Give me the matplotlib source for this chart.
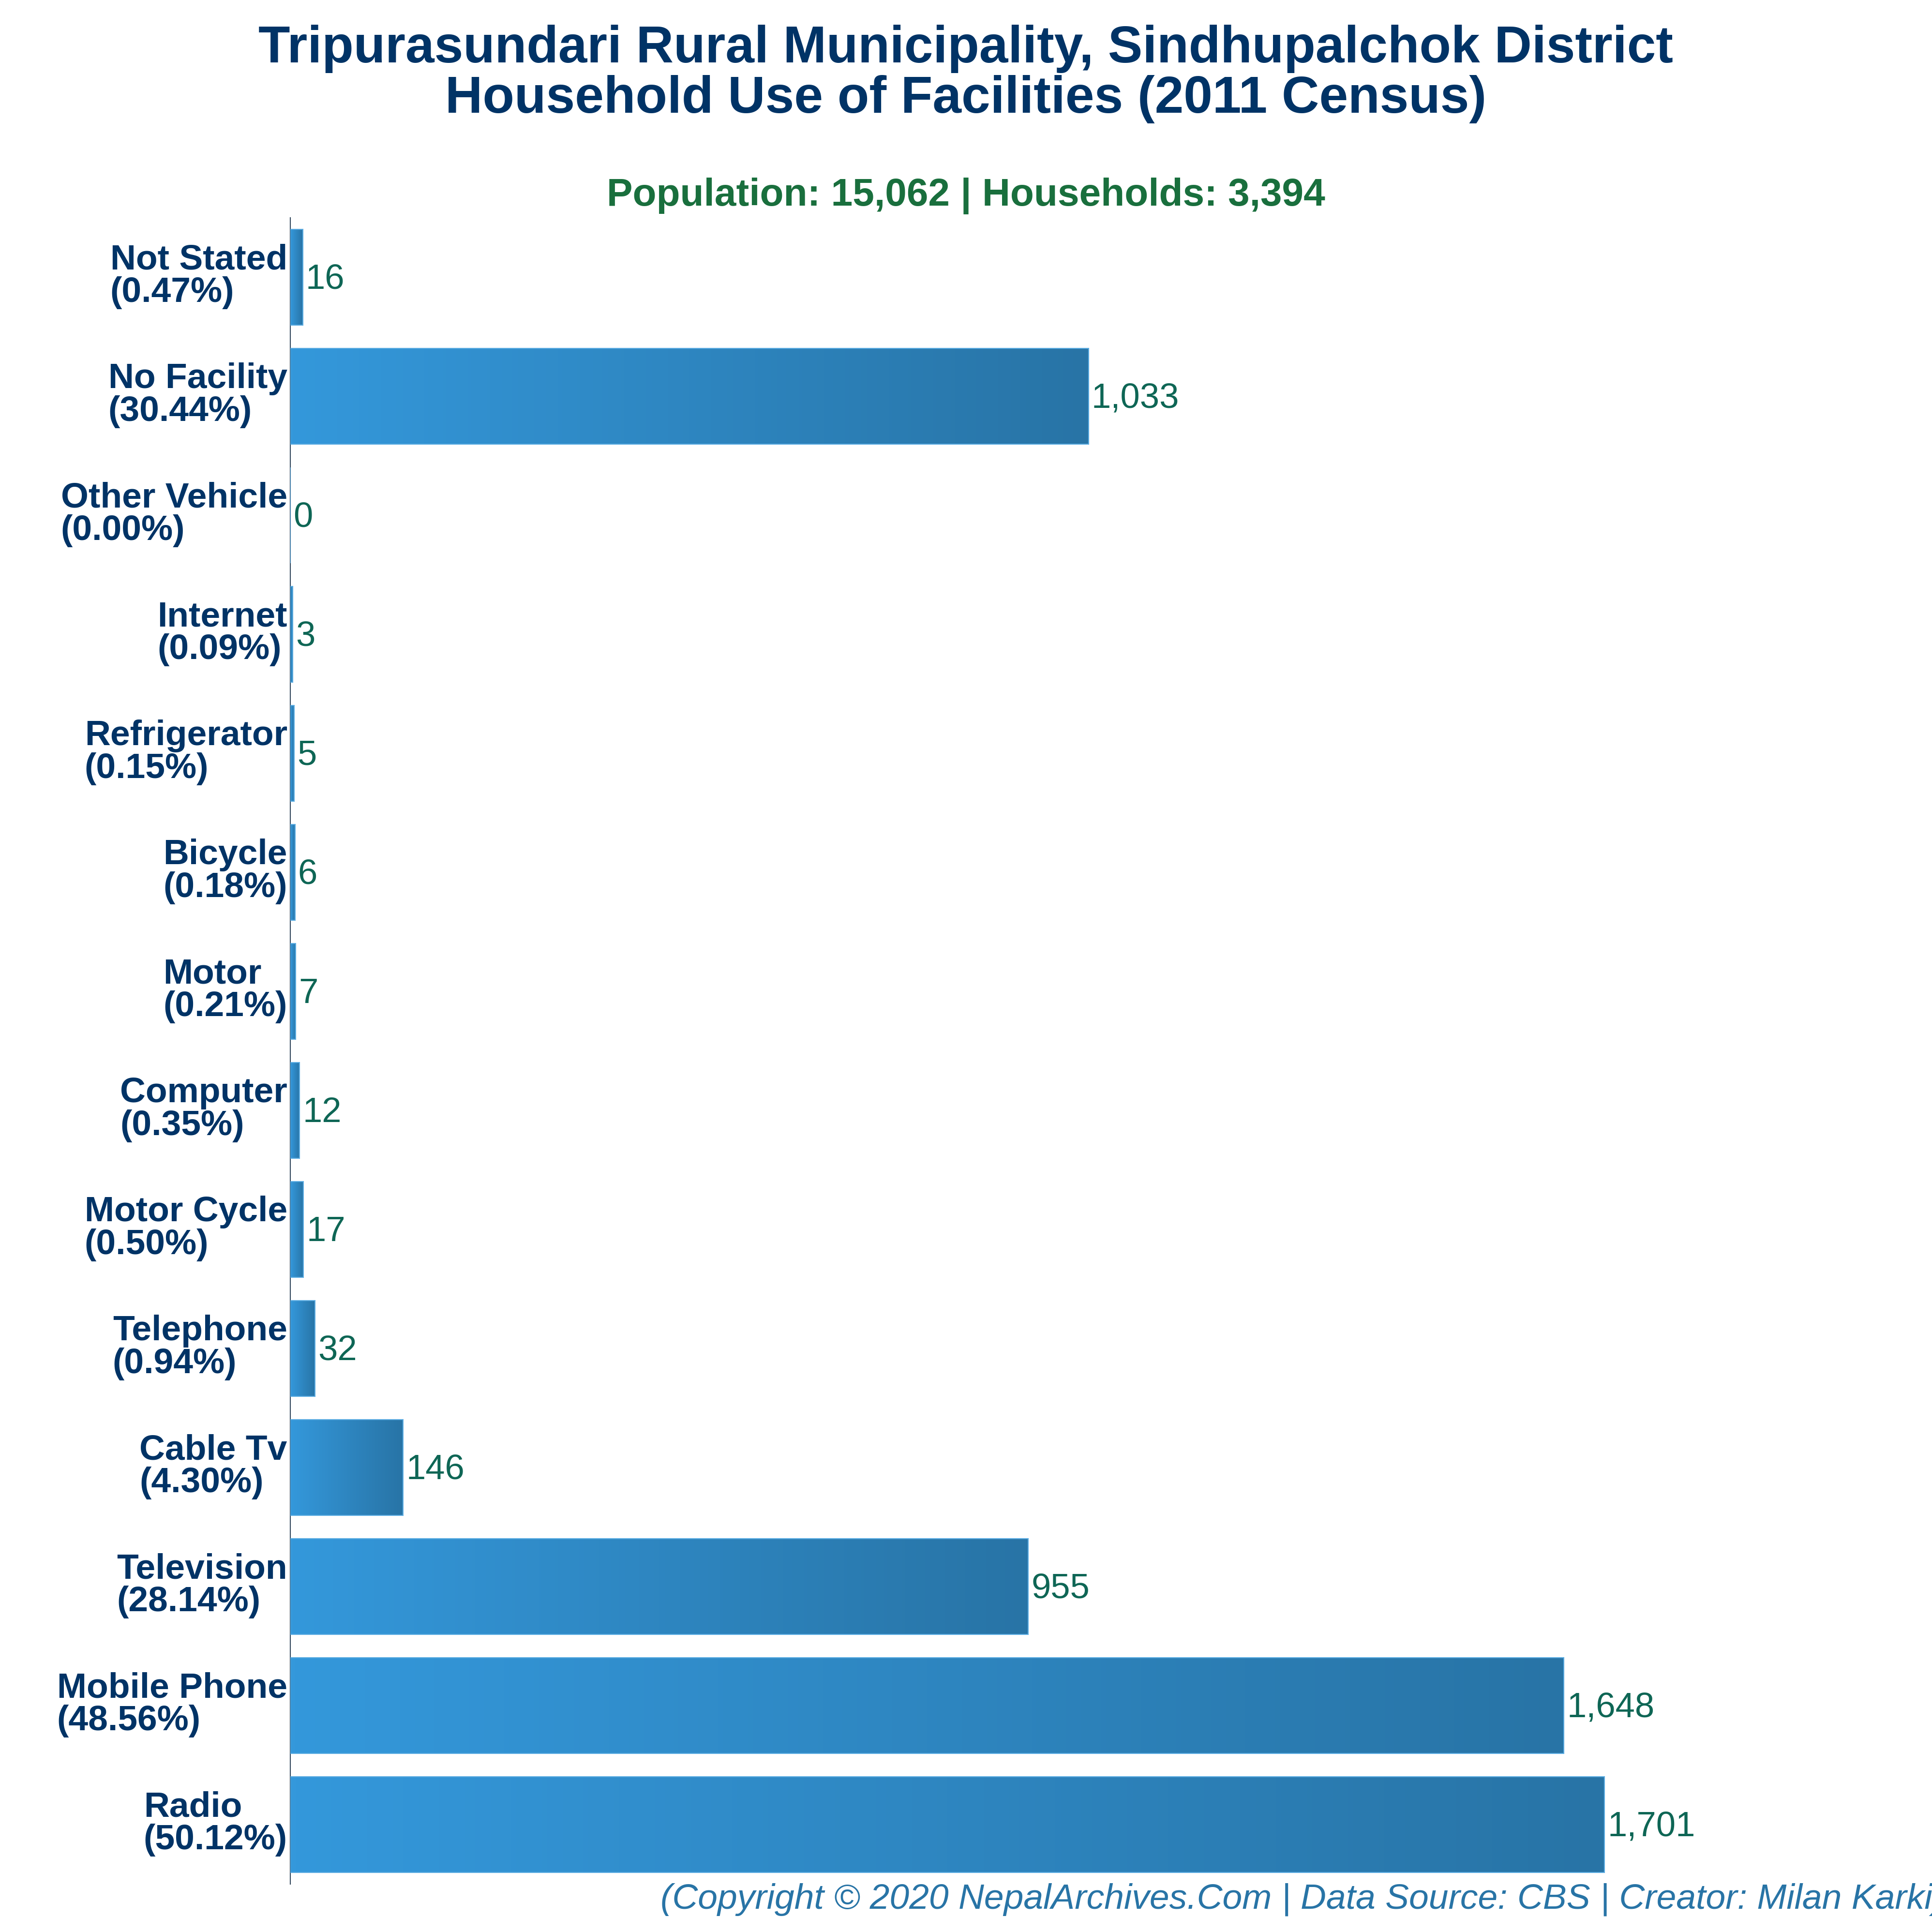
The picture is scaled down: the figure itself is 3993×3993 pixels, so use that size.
import numpy as np
import matplotlib
matplotlib.use("Agg")
import matplotlib.pyplot as plt
from matplotlib.colors import LinearSegmentedColormap
from matplotlib.transforms import ScaledTranslation

plt.rcParams['font.family'] = ['Liberation Sans', 'DejaVu Sans']

# data, bottom to top
categories = ["Radio", "Mobile Phone", "Television", "Cable Tv", "Telephone", "Motor Cycle", "Computer",
              "Motor", "Bicycle", "Refrigerator", "Internet", "Other Vehicle", "No Facility", "Not Stated"]
households = [1701, 1648, 955, 146, 32, 17, 12, 7, 6, 5, 3, 0, 1033, 16]
percents = [50.12, 48.56, 28.14, 4.30, 0.94, 0.50, 0.35, 0.21, 0.18, 0.15, 0.09, 0.00, 30.44, 0.47]

title_text = "Tripurasundari Rural Municipality, Sindhupalchok District\nHousehold Use of Facilities (2011 Census)"
subtitle_text = "Population: 15,062 | Households: 3,394"
credit_text = "(Copyright © 2020 NepalArchives.Com | Data Source: CBS | Creator: Milan Karki)"

W = 3993
navy = "#003366"
grad = LinearSegmentedColormap.from_list("bar", ["#3498db", "#2874a6"])

fig = plt.figure(figsize=(W / 300, W / 300), dpi=300, facecolor="white")
# axes box in pixels: x 600..3993, y 450..3894
ax = fig.add_axes([600 / W, 1 - 3894 / W, (W - 600) / W, (3894 - 450) / W])

y = np.arange(len(categories))
bars = ax.barh(y, households, height=0.805, color="none", edgecolor="#5dade2", linewidth=0.5, zorder=3)

# left to right gradient inside every bar
gradient = np.linspace(0, 1, 256).reshape(1, -1)
for bar in bars:
    x0, y0, w, h = bar.get_x(), bar.get_y(), bar.get_width(), bar.get_height()
    if w == 0:
        continue
    im = ax.imshow(gradient, cmap=grad, extent=[x0, x0 + w, y0, y0 + h], aspect="auto", zorder=2)
    im.set_clip_path(bar)

ax.set_xlim(0, 3393 / 1.597)
ax.set_ylim(-0.5, len(categories) - 0.5)

for yi, v in zip(y, households):
    ax.annotate(f"{v:,}", xy=(v, yi), xytext=(1.5, 0.5), textcoords="offset points",
                va="center_baseline", ha="left", fontsize=17.4, color="#0e6655")

ax.set_yticks(y)
ax.set_yticklabels([f"{c}\n({p:.2f}%)" for c, p in zip(categories, percents)],
                   fontsize=17.6, fontweight="bold", color=navy, multialignment="left", linespacing=1.0)
ax.tick_params(axis="y", length=0, pad=1.5)
ax.set_xticks([])
shift = ScaledTranslation(0, 2.2 / 72, fig.dpi_scale_trans)
for lab in ax.get_yticklabels():
    lab.set_transform(lab.get_transform() + shift)
for s in ["top", "right", "bottom"]:
    ax.spines[s].set_visible(False)
ax.spines["left"].set_linewidth(0.5)
ax.spines["left"].set_color("#34495e")

fig.text(1996 / W, 1 - 153 / W, title_text, ha="center", va="center", fontsize=25.75, fontweight="bold",
         color=navy, linespacing=1.06)
fig.text(1996 / W, 1 - 405 / W, subtitle_text, ha="center", va="center", fontsize=19.25, fontweight="bold",
         color="#196f3d")
fig.text(1365 / W, 1 - 3926 / W, credit_text, ha="left", va="center", fontsize=17.6, style="italic",
         color="#2874a6")

fig.savefig("out.png", dpi=300, facecolor="white")
